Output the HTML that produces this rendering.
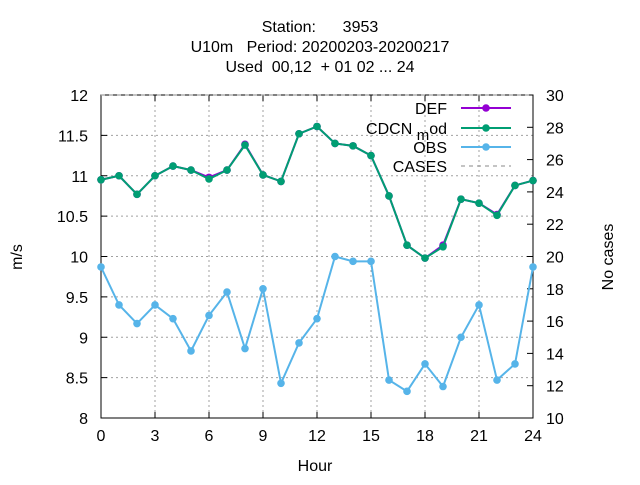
<!DOCTYPE html>
<html><head><meta charset="utf-8"><style>
body{margin:0;background:#fff}
svg{font-family:"Liberation Sans",sans-serif}
</style></head><body>
<svg id="chart" width="640" height="480" xmlns="http://www.w3.org/2000/svg">
<rect width="640" height="480" fill="#fff"/>
<g font-size="16" text-anchor="middle" fill="#000">
<text x="320" y="32" xml:space="preserve">Station:      3953</text>
<text x="320" y="52" xml:space="preserve">U10m   Period: 20200203-20200217</text>
<text x="320" y="72" xml:space="preserve">Used  00,12  + 01 02 ... 24</text>
</g>
<g id="grid"></g><g id="axes"></g><g id="series"></g>
<text x="315" y="471" font-size="16" text-anchor="middle">Hour</text>
<text transform="translate(22,257) rotate(-90)" font-size="16" text-anchor="middle">m/s</text>
<text transform="translate(613,257) rotate(-90)" font-size="16" text-anchor="middle">No cases</text>
<g id="legend" font-size="16" text-anchor="end"></g>
</svg>
<script>
const hours=[0,1,2,3,4,5,6,7,8,9,10,11,12,13,14,15,16,17,18,19,20,21,22,23,24];
const defVals=[10.95,11.0,10.77,11.0,11.12,11.07,10.98,11.07,11.39,11.01,10.93,11.52,11.61,11.4,11.37,11.25,10.75,10.14,9.98,10.14,10.71,10.66,10.52,10.88,10.94];
const cdcnVals=[10.95,11.0,10.77,11.0,11.12,11.07,10.96,11.07,11.38,11.01,10.93,11.52,11.61,11.4,11.37,11.25,10.75,10.14,9.98,10.12,10.71,10.66,10.51,10.88,10.94];
const obsVals=[9.87,9.4,9.17,9.4,9.23,8.83,9.27,9.56,8.86,9.6,8.43,8.93,9.23,10.0,9.94,9.94,8.47,8.33,8.67,8.39,9.0,9.4,8.47,8.67,9.87];
const casesVals=[30,30,30,30,30,30,30,30,30,30,30,30,30,30,30,30,30,30,30,30,30,30,30,30,30];
const xTicks=[0,3,6,9,12,15,18,21,24];
const yTicks=[8,8.5,9,9.5,10,10.5,11,11.5,12];
const y2Ticks=[10,12,14,16,18,20,22,24,26,28,30];
const L=101,R=533,T=95,B=418;
const xs=h=>L+(h-0)/24*(R-L);
const ys=v=>B-(v-8)/4*(B-T);
const y2s=v=>B-(v-10)/20*(B-T);
const NS='http://www.w3.org/2000/svg';
function mk(tag,attrs,parent){const e=document.createElementNS(NS,tag);for(const k in attrs)e.setAttribute(k,attrs[k]);parent.appendChild(e);return e;}
const grid=document.getElementById('grid'),axes=document.getElementById('axes'),ser=document.getElementById('series'),leg=document.getElementById('legend');
xTicks.forEach(t=>{const x=xs(t);
 if(t>0&&t<24){const g=mk('line',{x1:x,x2:x,y1:T,y2:B,stroke:'#a0a0a0','stroke-dasharray':'2,3'},grid);}
 mk('line',{x1:x,x2:x,y1:B,y2:B-6,stroke:'#000'},axes);mk('line',{x1:x,x2:x,y1:T,y2:T+6,stroke:'#000'},axes);
 const tx=mk('text',{x:x,y:B+23,'font-size':16,'text-anchor':'middle'},axes);tx.textContent=t;
 });
yTicks.forEach(t=>{const y=ys(t);
 if(t>8&&t<12){const g=mk('line',{x1:L,x2:R,y1:y,y2:y,stroke:'#a0a0a0','stroke-dasharray':'2,3'},grid);}
 mk('line',{x1:L,x2:L+6,y1:y,y2:y,stroke:'#000'},axes);
 const tx=mk('text',{x:L-13,y:y+6,'font-size':16,'text-anchor':'end'},axes);tx.textContent=t;
 });
y2Ticks.forEach(t=>{const y=y2s(t);
 mk('line',{x1:R,x2:R-6,y1:y,y2:y,stroke:'#000'},axes);
 const tx=mk('text',{x:R+13,y:y+6,'font-size':16,'text-anchor':'start'},axes);tx.textContent=t;
 });
const frame=mk('rect',{x:L,y:T,width:R-L,height:B-T,fill:'none',stroke:'#000'},axes);

function line(vals,sc,color,name,dash,marker){
 const pts=hours.map((h,i)=>xs(h)+','+sc(vals[i])).join(' ');
 const p=mk('polyline',{points:pts,fill:'none',stroke:color,'stroke-width':dash?1.2:2,'stroke-dasharray':dash||''},ser);
 
 if(marker)hours.forEach((h,i)=>{const c=mk('circle',{cx:xs(h),cy:sc(vals[i]),r:3.8,fill:color},ser);
  });
}
line(casesVals,y2s,'#a0a0a0','cases','4,4',false);
line(defVals,ys,'#9400d3','def',null,true);
line(cdcnVals,ys,'#009e73','cdcn-mod',null,true);
line(obsVals,ys,'#56b4e9','obs',null,true);
const entries=[['DEF','#9400d3',108,null,'legend-def'],['CDCN_mod','#009e73',128,null,'legend-cdcn-mod'],['OBS','#56b4e9',147,null,'legend-obs'],['CASES','#a0a0a0',166,'4,4','legend-cases']];
entries.forEach(e=>{const g=mk('g',{},leg);
 const tx=mk('text',{x:447,y:e[2]+6},g);
 if(e[0]==='CDCN_mod'){tx.textContent='CDCN ';const s=mk('tspan',{dy:6,'font-size':15},tx);s.textContent='m';const s2=mk('tspan',{dy:-6},tx);s2.textContent='od';}
 else tx.textContent=e[0];
 mk('line',{x1:461,x2:511,y1:e[2],y2:e[2],stroke:e[1],'stroke-width':e[3]?1.2:2,'stroke-dasharray':e[3]||''},g);
 if(!e[3])mk('circle',{cx:486,cy:e[2],r:3.8,fill:e[1]},g);});
</script>
</body></html>
